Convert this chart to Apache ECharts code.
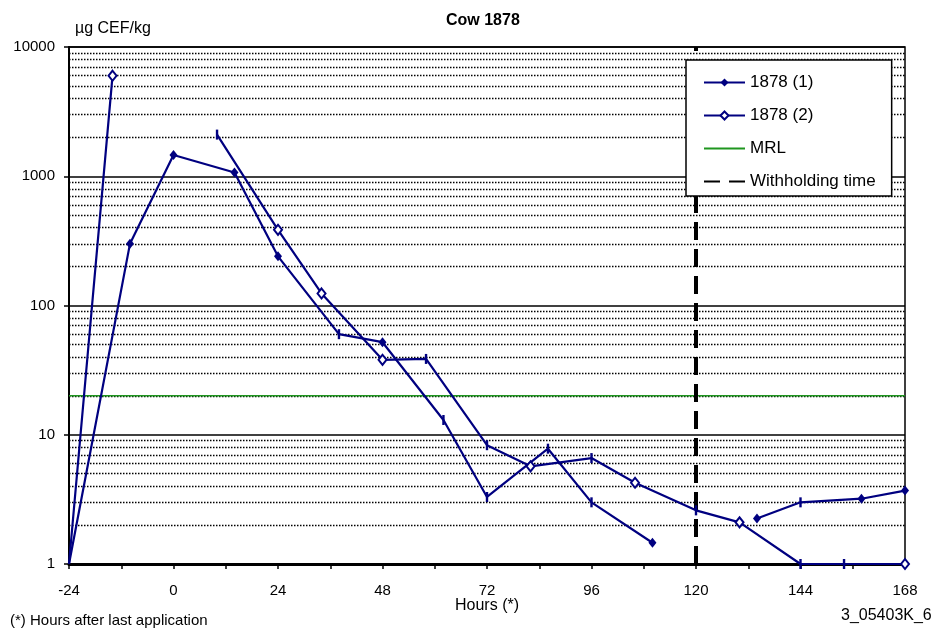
<!DOCTYPE html>
<html>
<head>
<meta charset="utf-8">
<script src="https://cdn.jsdelivr.net/npm/echarts@6/dist/echarts.min.js"></script>
<style>
  html, body { margin: 0; padding: 0; background: #fff; }
  #chart { width: 938px; height: 633px; }
</style>
</head>
<body>
<div id="chart"></div>
<script>
// Residue concentration (µg CEF/kg) versus hours after last application, cow 1878
const hours1  = [-24, -10, 0, 14, 24, 38, 48, 62, 72, 86, 96, 110, null, 134, 144, 158, 168];
const values1 = [1, 300, 1460, 1070, 240, 60, 52, 13, 3.3, 7.8, 3.0, 1.46, null, 2.25, 3.0, 3.2, 3.7];
const hours2  = [-24, -14, null, 10, 24, 34, 48, 58, 72, 82, 96, 106, 120, 130, 144, 154, 168];
const values2 = [1, 6000, null, 2100, 385, 124, 38, 38.6, 8.3, 5.7, 6.6, 4.25, 2.6, 2.1, 1, 1, 1];
const mrlValue = 20;
const withholdingHours = 120;
const xTickLabels = [-24, 0, 24, 48, 72, 96, 120, 144, 168];
const yTickLabels = [1, 10, 100, 1000, 10000];
const seriesNames = ['1878 (1)', '1878 (2)', 'MRL', 'Withholding time'];

// ---- styling ----
const FONT = '"Liberation Sans", Arial, sans-serif';
const NAVY = '#000080';
const GREEN = '#1f961f';
// points drawn with a short vertical bar instead of a diamond
const barPoints1 = [38, 62, 72, 86, 96, 144];
const barPoints2 = [10, 58, 72, 96, 120, 144, 154];

function buildData(hours, values, barPoints) {
  return hours.map((h, i) => {
    if (h === null || values[i] === null) return ['-', '-'];
    const item = { value: [h, values[i]] };
    if (i === 0) item.symbol = 'none';
    else if (barPoints.includes(h)) { item.symbol = 'rect'; item.symbolSize = [2.4, 10]; }
    return item;
  });
}

// dotted minor grid at 2..9 within each decade
const minorLines = [];
for (let d = 0; d < yTickLabels.length - 1; d++) {
  for (let k = 2; k <= 9; k++) minorLines.push({ yAxis: k * yTickLabels[d] });
}

const yMin = yTickLabels[0], yMax = yTickLabels[yTickLabels.length - 1];
const xMin = xTickLabels[0], xMax = xTickLabels[xTickLabels.length - 1];

const chart = echarts.init(document.getElementById('chart'), null, { renderer: 'canvas' });
chart.setOption({
  animation: false,
  backgroundColor: '#fff',
  textStyle: { fontFamily: FONT },
  title: {
    text: 'Cow 1878',
    left: 441, top: 8,
    textStyle: { fontFamily: FONT, fontSize: 16, fontWeight: 'bold', color: '#000' }
  },
  grid: {
    left: 69, right: 33, top: 47, bottom: 69,
    show: true, borderColor: '#000', borderWidth: 1.5, backgroundColor: 'transparent'
  },
  xAxis: {
    type: 'value', min: xMin, max: xMax, interval: 12,
    axisLine: { show: true, onZero: false, lineStyle: { color: '#000', width: 3 } },
    axisTick: { show: true, length: 5, lineStyle: { color: '#000', width: 1.5 } },
    axisLabel: {
      margin: 19, fontSize: 15, color: '#000', fontFamily: FONT,
      formatter: v => xTickLabels.includes(v) ? String(v) : ''
    },
    splitLine: { show: false }
  },
  yAxis: {
    type: 'log', logBase: 10, min: yMin, max: yMax,
    axisLine: { show: true, onZero: false, lineStyle: { color: '#000', width: 2 } },
    axisTick: { show: true, length: 5, lineStyle: { color: '#000', width: 1.5 } },
    axisLabel: {
      margin: 14, fontSize: 15, color: '#000', fontFamily: FONT,
      formatter: v => String(Math.round(v))
    },
    splitLine: { show: true, lineStyle: { color: '#000', width: 1.5 } }
  },
  legend: {
    z: 20,
    data: [
      { name: seriesNames[0] },
      { name: seriesNames[1] },
      { name: seriesNames[2], itemStyle: { opacity: 0 } },
      { name: seriesNames[3], itemStyle: { opacity: 0 }, lineStyle: { type: [16, 9] } }
    ],
    orient: 'vertical', left: 686, top: 60,
    backgroundColor: '#fff', borderColor: '#000', borderWidth: 1.5,
    padding: [14, 16, 6, 17],
    itemWidth: 41, itemHeight: 10, itemGap: 16,
    selectedMode: false,
    textStyle: { fontFamily: FONT, fontSize: 17, color: '#000', lineHeight: 17 }
  },
  series: [
    {
      name: seriesNames[0], type: 'line', z: 5,
      data: buildData(hours1, values1, barPoints1),
      symbol: 'diamond', symbolSize: [8, 10], showAllSymbol: true,
      lineStyle: { color: NAVY, width: 2.2 },
      itemStyle: { color: NAVY }
    },
    {
      name: seriesNames[1], type: 'line', z: 5,
      data: buildData(hours2, values2, barPoints2),
      symbol: 'emptyDiamond', symbolSize: [8, 10], showAllSymbol: true,
      lineStyle: { color: NAVY, width: 2.2 },
      itemStyle: { color: NAVY, borderWidth: 1.5 }
    },
    {
      name: seriesNames[2], type: 'line', z: 2,
      data: [[xMin, mrlValue], [xMax, mrlValue]],
      symbol: 'none',
      lineStyle: { color: GREEN, width: 1.5 },
      itemStyle: { color: GREEN },
      markLine: {
        z: 1, silent: true, symbol: 'none', animation: false,
        label: { show: false },
        lineStyle: { color: '#000', type: [1.5, 1.5], width: 1.3 },
        emphasis: { disabled: true },
        data: minorLines
      }
    },
    {
      name: seriesNames[3], type: 'line', z: 4,
      data: [[withholdingHours, yMin], [withholdingHours, yMax]],
      symbol: 'none',
      lineStyle: { color: '#000', width: 4, type: [18, 9] },
      itemStyle: { color: '#000' }
    }
  ],
  graphic: [
    { type: 'text', left: 75, top: 21, style: { text: 'µg CEF/kg', font: '16px ' + FONT, fill: '#000' } },
    { type: 'text', left: 455, top: 598, style: { text: 'Hours (*)', font: '16px ' + FONT, fill: '#000' } },
    { type: 'text', left: 10, top: 613, style: { text: '(*) Hours after last application', font: '15px ' + FONT, fill: '#000' } },
    { type: 'text', left: 841, top: 608, style: { text: '3_05403K_6', font: '16px ' + FONT, fill: '#000' } }
  ]
});
</script>
</body>
</html>
